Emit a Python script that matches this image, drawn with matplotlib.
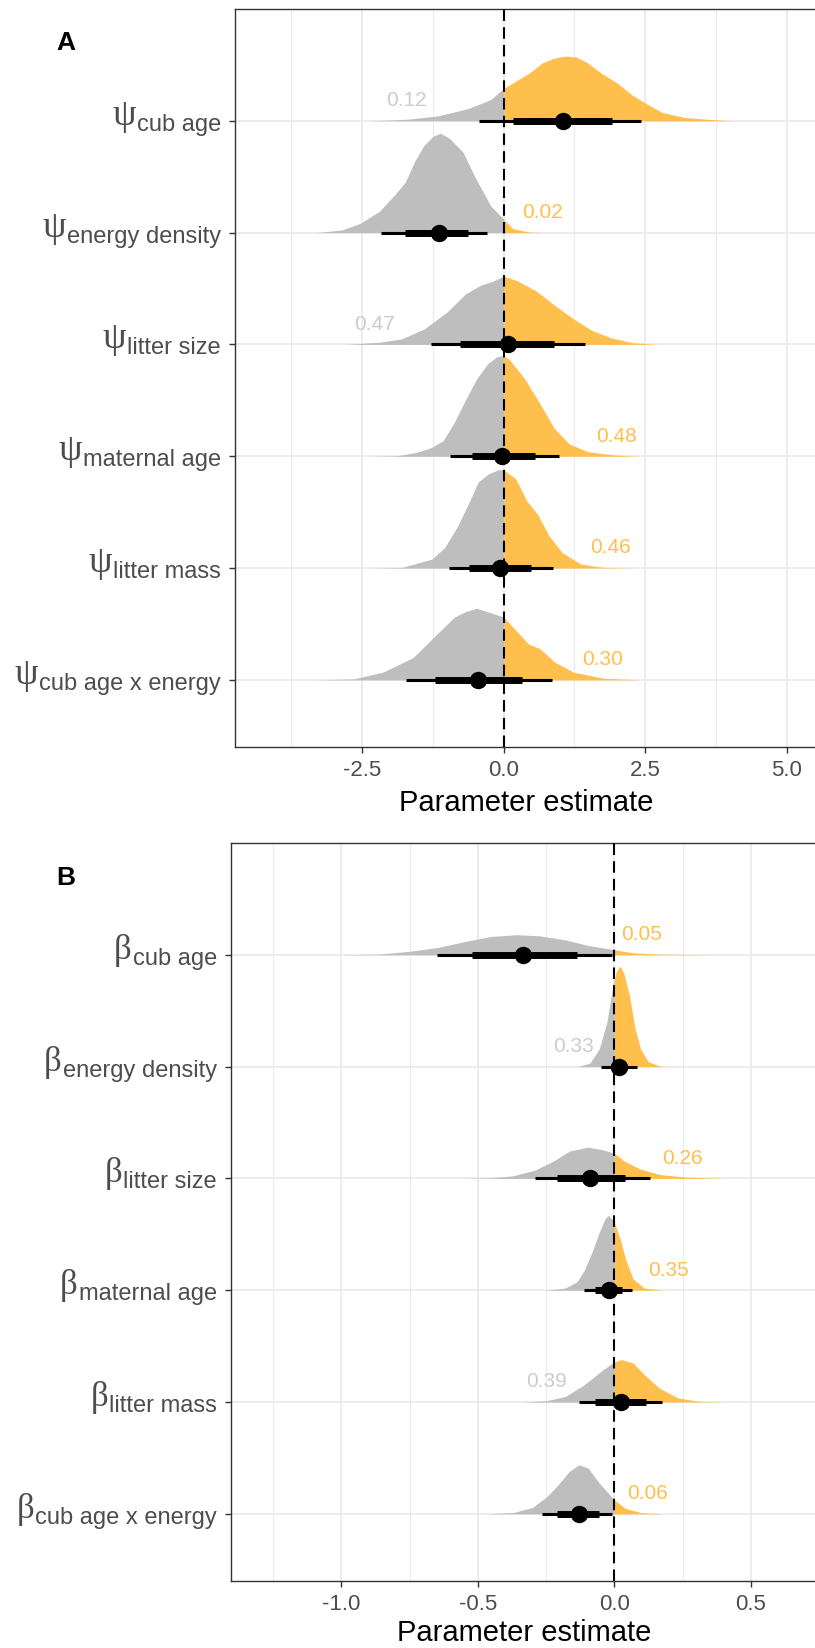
import numpy as np
import matplotlib
matplotlib.use("Agg")
import matplotlib.pyplot as plt
from matplotlib.ticker import FixedLocator

plt.rcParams['font.family'] = ['Liberation Sans', 'DejaVu Sans']
plt.rcParams['axes.unicode_minus'] = False

# row names, top to bottom
rows = ["cub age", "energy density", "litter size", "maternal age",
        "litter mass", "cub age x energy"]

# ---- panel A (psi) : posterior densities
# heights are in units of row spacing
psi_x = [
    [-2.34, -1.68, -1.15, -0.625, -0.23, 0.0, 0.23, 0.43, 0.69, 0.89, 1.09, 1.28, 1.48, 1.74, 2.0, 2.27, 2.53, 2.8, 3.19, 3.72, 4.05],
    [-3.3, -2.86, -2.53, -2.2, -1.94, -1.74, -1.58, -1.41, -1.25, -1.12, -0.95, -0.72, -0.49, -0.23, 0.0, 0.16, 0.43, 0.7],
    [-2.8, -2.19, -1.8, -1.4, -1.0, -0.68, -0.41, -0.22, 0.0, 0.24, 0.57, 0.9, 1.23, 1.56, 1.89, 2.28, 2.74],
    [-2.32, -1.86, -1.53, -1.27, -1.07, -0.875, -0.68, -0.48, -0.28, -0.12, 0.0, 0.11, 0.375, 0.64, 0.9, 1.16, 1.49, 1.95, 2.4],
    [-2.32, -1.8, -1.27, -1.04, -0.81, -0.61, -0.45, -0.28, -0.09, 0.0, 0.21, 0.41, 0.6, 0.8, 1.03, 1.36, 1.76, 2.28],
    [-3.3, -2.65, -2.13, -1.6, -1.24, -0.875, -0.68, -0.48, -0.22, 0.0, 0.24, 0.44, 0.64, 0.9, 1.23, 1.76, 2.41],
]
psi_h = [
    [0, 0.015, 0.045, 0.11, 0.19, 0.29, 0.36, 0.42, 0.52, 0.56, 0.58, 0.57, 0.52, 0.42, 0.34, 0.23, 0.15, 0.075, 0.03, 0.01, 0],
    [0, 0.024, 0.084, 0.19, 0.33, 0.45, 0.63, 0.78, 0.86, 0.89, 0.84, 0.72, 0.48, 0.24, 0.12, 0.036, 0.006, 0],
    [0, 0.02, 0.05, 0.14, 0.29, 0.45, 0.53, 0.56, 0.61, 0.57, 0.48, 0.35, 0.23, 0.125, 0.06, 0.015, 0],
    [0, 0.006, 0.036, 0.08, 0.14, 0.30, 0.50, 0.69, 0.83, 0.89, 0.90, 0.86, 0.69, 0.47, 0.245, 0.11, 0.04, 0.012, 0],
    [0, 0.006, 0.08, 0.185, 0.38, 0.59, 0.77, 0.84, 0.88, 0.88, 0.80, 0.60, 0.48, 0.29, 0.14, 0.036, 0.006, 0],
    [0, 0.009, 0.07, 0.2, 0.38, 0.56, 0.61, 0.64, 0.60, 0.56, 0.43, 0.32, 0.28, 0.16, 0.07, 0.015, 0],
]
psi_point = [1.04, -1.15, 0.07, -0.03, -0.066, -0.45]
psi_inner = [(0.16, 1.91), (-1.74, -0.625), (-0.78, 0.89), (-0.56, 0.56), (-0.61, 0.49), (-1.22, 0.33)]
psi_outer = [(-0.43, 2.43), (-2.17, -0.30), (-1.29, 1.43), (-0.94, 0.98), (-0.97, 0.88), (-1.73, 0.85)]
psi_prob = ["0.12", "0.02", "0.47", "0.48", "0.46", "0.30"]
psi_prob_x = [-1.71, 0.68, -2.29, 1.99, 1.89, 1.74]

# ---- panel B (beta)
beta_x = [
    [-1.0, -0.865, -0.755, -0.645, -0.536, -0.453, -0.357, -0.275, -0.18, -0.096, 0.0, 0.069, 0.165, 0.37],
    [-0.137, -0.09, -0.055, -0.027, -0.007, 0.0, 0.007, 0.021, 0.034, 0.055, 0.076, 0.096, 0.124, 0.165, 0.19],
    [-0.56, -0.45, -0.37, -0.29, -0.22, -0.165, -0.096, -0.04, 0.0, 0.04, 0.096, 0.165, 0.26, 0.4],
    [-0.25, -0.18, -0.137, -0.11, -0.082, -0.055, -0.034, -0.021, 0.0, 0.021, 0.041, 0.069, 0.11, 0.18],
    [-0.34, -0.25, -0.18, -0.11, -0.041, 0.0, 0.027, 0.069, 0.11, 0.165, 0.234, 0.316, 0.4],
    [-0.47, -0.37, -0.30, -0.247, -0.206, -0.165, -0.13, -0.096, -0.055, 0.0, 0.04, 0.096, 0.18],
]
beta_h = [
    [0, 0.006, 0.03, 0.066, 0.125, 0.164, 0.18, 0.17, 0.134, 0.084, 0.045, 0.018, 0.006, 0],
    [0, 0.03, 0.16, 0.40, 0.70, 0.78, 0.85, 0.90, 0.84, 0.64, 0.34, 0.16, 0.045, 0.006, 0],
    [0, 0.006, 0.024, 0.075, 0.16, 0.245, 0.28, 0.255, 0.224, 0.15, 0.084, 0.036, 0.012, 0],
    [0, 0.02, 0.075, 0.18, 0.34, 0.52, 0.64, 0.67, 0.61, 0.46, 0.28, 0.10, 0.02, 0],
    [0, 0.012, 0.05, 0.155, 0.29, 0.36, 0.38, 0.35, 0.245, 0.125, 0.036, 0.006, 0],
    [0, 0.012, 0.057, 0.155, 0.26, 0.38, 0.44, 0.41, 0.275, 0.125, 0.05, 0.012, 0],
]
beta_point = [-0.334, 0.018, -0.088, -0.021, 0.023, -0.13]
beta_inner = [(-0.52, -0.137), (-0.014, 0.048), (-0.21, 0.038), (-0.069, 0.027), (-0.069, 0.117), (-0.21, -0.055)]
beta_outer = [(-0.65, -0.007), (-0.048, 0.082), (-0.29, 0.13), (-0.11, 0.066), (-0.13, 0.176), (-0.264, -0.007)]
beta_prob = ["0.05", "0.33", "0.26", "0.35", "0.39", "0.06"]
beta_prob_x = [0.10, -0.15, 0.25, 0.20, -0.25, 0.12]

GRAY = "#BEBEBE"
ORANGE = "#FFBF4D"
GRAY_TXT = "#CCCCCC"
DARK = "#333333"
TICK_TXT = "#4D4D4D"


def draw_panel(ax, greek, greek_size, dens_x, dens_h, point, inner, outer,
               prob, prob_x, xlim, major, major_labels, minor):
    n = len(rows)
    ax.axvline(0, color="black", lw=1.5, dashes=(5.5, 3), zorder=3)
    for i in range(n):
        y0 = n - i
        x = np.array(dens_x[i])
        h = np.array(dens_h[i])
        neg = x <= 0
        pos = x >= 0
        ax.fill_between(x[neg], y0, y0 + h[neg], color=GRAY, lw=0, zorder=2)
        ax.fill_between(x[pos], y0, y0 + h[pos], color=ORANGE, lw=0, zorder=2)
        ax.plot(outer[i], [y0, y0], color="black", lw=2.2,
                solid_capstyle="butt", zorder=4)
        ax.plot(inner[i], [y0, y0], color="black", lw=5.0,
                solid_capstyle="butt", zorder=4)
        ax.plot(point[i], y0, "o", color="black", ms=11.5, zorder=5)
        c = GRAY_TXT if prob_x[i] < 0 else ORANGE
        ax.text(prob_x[i], y0 + 0.19, prob[i], color=c, fontsize=15,
                ha="center", va="center", zorder=6)
        # y label: greek letter + subscript text
        sub = ax.annotate(rows[i], xy=(0, y0), xycoords=("axes fraction", "data"),
                          xytext=(-14, -9), textcoords="offset pixels",
                          ha="right", va="baseline", fontsize=17, color=TICK_TXT)
        ax.annotate(greek, xy=(0, 0), xycoords=sub, xytext=(-1, 3),
                    textcoords="offset pixels", ha="right", va="bottom",
                    fontsize=greek_size, family="Liberation Serif", color=TICK_TXT)

    ax.set_xlim(*xlim)
    ax.set_ylim(0.4, 7.0)
    ax.set_yticks(range(1, n + 1))
    ax.set_yticklabels([""] * n)
    ax.set_xticks(major)
    ax.set_xticklabels(major_labels)
    ax.xaxis.set_minor_locator(FixedLocator(minor))
    ax.set_axisbelow(True)
    ax.xaxis.grid(True, which="major", color="#EBEBEB", lw=1.3)
    ax.xaxis.grid(True, which="minor", color="#EBEBEB", lw=0.8)
    ax.yaxis.grid(True, which="major", color="#EBEBEB", lw=1.3)
    ax.tick_params(which="major", length=4.3, width=1.0, color=DARK,
                   labelsize=16, labelcolor=TICK_TXT, pad=4.0)
    ax.tick_params(which="minor", length=0)
    for s in ax.spines.values():
        s.set_color(DARK)
        s.set_linewidth(1.0)


W, H = 815, 1649
fig = plt.figure(figsize=(W / 100, H / 100), dpi=100)

axA = fig.add_axes([235 / W, 1 - 748 / H, (818 - 235) / W, 738 / H])
axB = fig.add_axes([231 / W, 1 - 1582 / H, (818 - 231) / W, 738 / H])

draw_panel(axA, "\u03c8", 27, psi_x, psi_h, psi_point, psi_inner, psi_outer,
           psi_prob, psi_prob_x, (-4.747, 5.553),
           [-2.5, 0.0, 2.5, 5.0], ["-2.5", "0.0", "2.5", "5.0"],
           [-3.75, -1.25, 1.25, 3.75])
draw_panel(axB, "\u03b2", 25, beta_x, beta_h, beta_point, beta_inner, beta_outer,
           beta_prob, beta_prob_x, (-1.404, 0.746),
           [-1.0, -0.5, 0.0, 0.5], ["-1.0", "-0.5", "0.0", "0.5"],
           [-1.25, -0.75, -0.25, 0.25])

# axis titles placed at their pixel rows
fig.text(526.5 / W, 1 - 810.7 / H, "Parameter estimate", fontsize=21,
         ha="center", va="baseline")
fig.text(524.5 / W, 1 - 1641.5 / H, "Parameter estimate", fontsize=21,
         ha="center", va="baseline")

fig.text(66 / W, 1 - 50 / H, "A", fontsize=19, fontweight="bold",
         ha="center", va="baseline")
fig.text(66 / W, 1 - 885 / H, "B", fontsize=19, fontweight="bold",
         ha="center", va="baseline")

fig.savefig("out.png", dpi=100)
